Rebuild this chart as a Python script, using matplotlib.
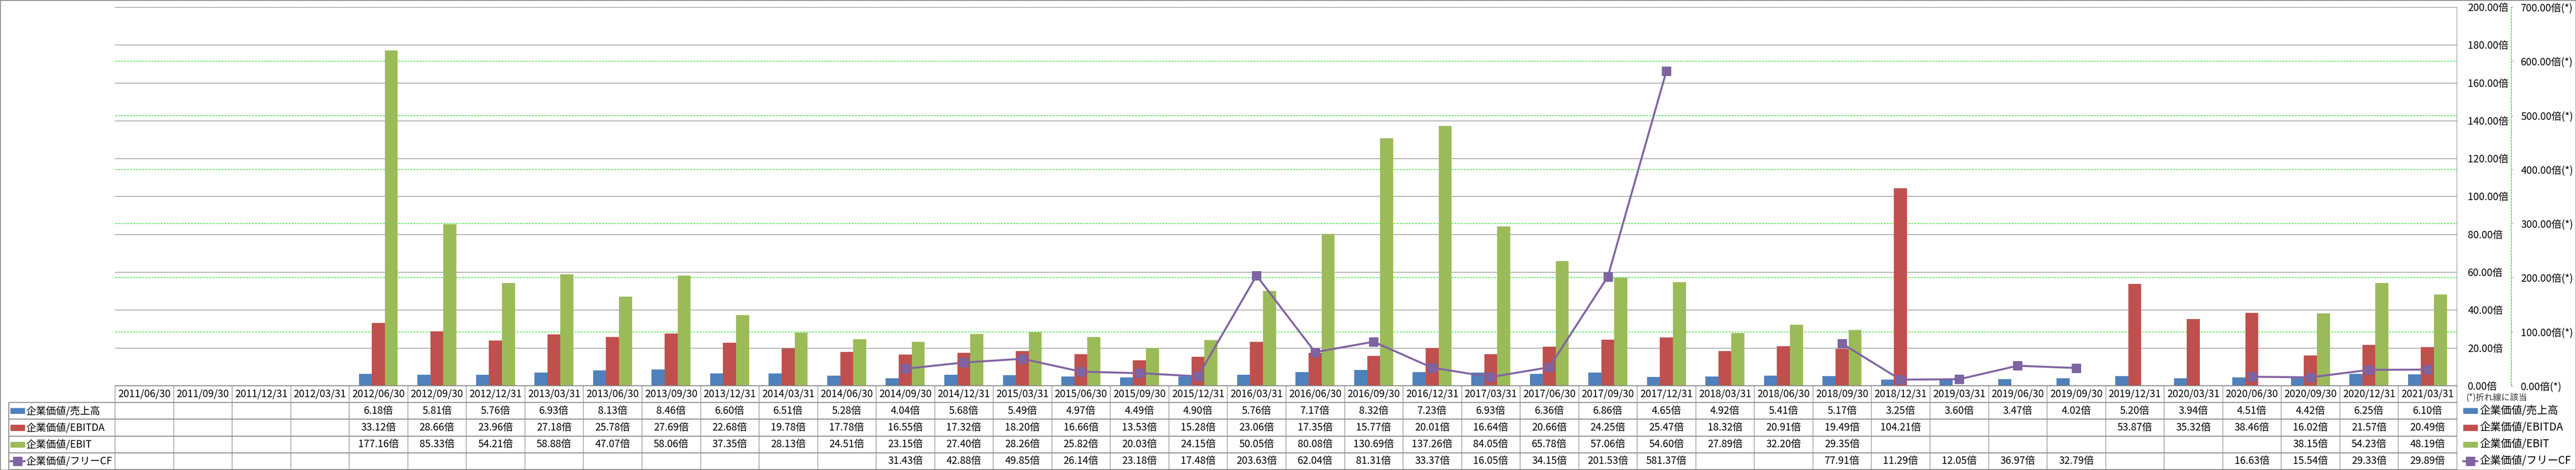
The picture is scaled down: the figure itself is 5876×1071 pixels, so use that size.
#!/usr/bin/env python3
# EV multiples chart (bars + line on secondary axis) with an Excel-style data table below.

import numpy as np
import matplotlib
matplotlib.use('Agg')
from matplotlib import pyplot as plt, ticker
from matplotlib.patches import Rectangle

plt.rcParams['font.family'] = ['Noto Sans CJK JP', 'DejaVu Sans']

nan = np.nan

dates = ['2011/06/30', '2011/09/30', '2011/12/31', '2012/03/31',
         '2012/06/30', '2012/09/30', '2012/12/31', '2013/03/31',
         '2013/06/30', '2013/09/30', '2013/12/31', '2014/03/31',
         '2014/06/30', '2014/09/30', '2014/12/31', '2015/03/31',
         '2015/06/30', '2015/09/30', '2015/12/31', '2016/03/31',
         '2016/06/30', '2016/09/30', '2016/12/31', '2017/03/31',
         '2017/06/30', '2017/09/30', '2017/12/31', '2018/03/31',
         '2018/06/30', '2018/09/30', '2018/12/31', '2019/03/31',
         '2019/06/30', '2019/09/30', '2019/12/31', '2020/03/31',
         '2020/06/30', '2020/09/30', '2020/12/31', '2021/03/31']

ev_sales = [nan, nan, nan, nan,
            6.18, 5.81, 5.76, 6.93, 8.13, 8.46, 6.60, 6.51, 5.28, 4.04,
            5.68, 5.49, 4.97, 4.49, 4.90, 5.76, 7.17, 8.32, 7.23, 6.93,
            6.36, 6.86, 4.65, 4.92, 5.41, 5.17, 3.25, 3.60, 3.47, 4.02,
            5.20, 3.94, 4.51, 4.42, 6.25, 6.10]

ev_ebitda = [nan, nan, nan, nan,
             33.12, 28.66, 23.96, 27.18, 25.78, 27.69, 22.68, 19.78, 17.78, 16.55,
             17.32, 18.20, 16.66, 13.53, 15.28, 23.06, 17.35, 15.77, 20.01, 16.64,
             20.66, 24.25, 25.47, 18.32, 20.91, 19.49, 104.21, nan, nan, nan,
             53.87, 35.32, 38.46, 16.02, 21.57, 20.49]

ev_ebit = [nan, nan, nan, nan,
           177.16, 85.33, 54.21, 58.88, 47.07, 58.06, 37.35, 28.13, 24.51, 23.15,
           27.40, 28.26, 25.82, 20.03, 24.15, 50.05, 80.08, 130.69, 137.26, 84.05,
           65.78, 57.06, 54.60, 27.89, 32.20, 29.35, nan, nan, nan, nan,
           nan, nan, nan, 38.15, 54.23, 48.19]

ev_fcf = [nan, nan, nan, nan, nan, nan, nan, nan, nan, nan, nan, nan, nan,
          31.43, 42.88, 49.85, 26.14, 23.18, 17.48, 203.63, 62.04, 81.31, 33.37,
          16.05, 34.15, 201.53, 581.37, nan, nan, 77.91, 11.29, 12.05, 36.97,
          32.79, nan, nan, 16.63, 15.54, 29.33, 29.89]

labels = ['企業価値/売上高', '企業価値/EBITDA', '企業価値/EBIT', '企業価値/フリーCF']
colors = ['#4F81BD', '#C0504D', '#9BBB59', '#8064A2']

# layout in pixels of the 5876 x 1071 canvas
W, H = 5876, 1071
PL, PR, PT, PB = 262, 5604, 16, 879      # plot area
TL, TB = 20, 1070                         # table left / bottom
GRAY = '#878787'
GREEN = '#00DD00'
FS = 16.5

fig = plt.figure(figsize=(W / 100, H / 100), dpi=100)
ax = fig.add_axes([PL / W, 1 - PB / H, (PR - PL) / W, (PB - PT) / H])
ax2 = ax.twinx()

n = len(dates)
x = np.arange(n)
bw = 0.222
for k, (vals, c) in enumerate(zip([ev_sales, ev_ebitda, ev_ebit], colors[:3])):
    ax.bar(x + (k - 1) * bw, np.array(vals, dtype=float), width=bw, color=c, zorder=3)

ax.set_xlim(-0.5, n - 0.5)
ax.set_ylim(0, 200)
ax.yaxis.set_major_locator(ticker.MultipleLocator(20))
ax.yaxis.set_major_formatter(ticker.FuncFormatter(lambda v, p: '{:.2f}倍'.format(v)))
ax.yaxis.tick_right()
ax.tick_params(axis='y', length=0, pad=18, labelsize=FS)
ax.tick_params(axis='x', bottom=False, labelbottom=False)
for t in ax.get_yticklabels():
    t.set_horizontalalignment('left')
ax.grid(axis='y', color=GRAY, lw=1.0, zorder=0)
for s in ['left', 'top', 'bottom']:
    ax.spines[s].set_visible(False)
ax.spines['right'].set_color(GRAY)

# secondary axis (line)
ax2.set_ylim(0, 700)
ax2.yaxis.set_major_locator(ticker.MultipleLocator(100))
ax2.yaxis.set_major_formatter(ticker.FuncFormatter(lambda v, p: '{:.2f}倍(*)'.format(v)))
ax2.tick_params(axis='y', length=3, color=GREEN, pad=13, labelsize=FS)
for s in ['left', 'top', 'bottom']:
    ax2.spines[s].set_visible(False)
ax2.spines['right'].set_position(('outward', (5728 - PR) * 0.72))
ax2.spines['right'].set_color(GREEN)
ax2.spines['right'].set_linestyle((0, (3, 2)))
ax2.spines['right'].set_linewidth(1.0)
# secondary gridlines behind the bars
for v in ax2.get_yticks():
    if 0 < v <= 700:
        ax.axhline(v * 200 / 700, color=GREEN, lw=1.0, ls=(0, (3, 2)), zorder=1)

ax2.plot(x, np.array(ev_fcf, dtype=float), color=colors[3], lw=3.2, marker='s',
         ms=15, mfc=colors[3], mec='#7460A0', zorder=5)

# data table
ppc = (PR - PL) / n
xl = -0.5 - (PL - TL) / ppc
tax = fig.add_axes([TL / W, 1 - TB / H, (PR - TL) / W, (TB - PB) / H])
tax.set_xlim(xl, n - 0.5)
tax.set_ylim(5, 0)
tax.axis('off')
tax.hlines(0, -0.5, n - 0.5, color=GRAY, lw=1.5, clip_on=False)
tax.hlines([1, 2, 3, 4, 5], xl, n - 0.5, color=GRAY, lw=1.5, clip_on=False)
tax.vlines(np.arange(n + 1) - 0.5, 0, 5, color=GRAY, lw=1.0, clip_on=False)
tax.vlines(xl, 1, 5, color=GRAY, lw=1.5, clip_on=False)

for i, d in enumerate(dates):
    tax.text(i, 0.5, d, ha='center', va='center', fontsize=FS)
for r, vals in enumerate([ev_sales, ev_ebitda, ev_ebit, ev_fcf]):
    for i, v in enumerate(vals):
        if not np.isnan(v):
            tax.text(i, r + 1.5, '{:.2f}倍'.format(v), ha='center', va='center', fontsize=FS)


def legend_key(axx, x0, y, k, kw):
    """Draw one legend key (rectangle or line+marker) at x0 (col units), row centre y."""
    if k < 3:
        axx.add_patch(Rectangle((x0, y - 0.16), kw, 0.32, color=colors[k], clip_on=False))
    else:
        axx.plot([x0, x0 + kw], [y, y], color=colors[k], lw=3.2, clip_on=False)
        axx.plot([x0 + kw / 2], [y], marker='s', ms=15, color=colors[k], clip_on=False)


kw = 32 / ppc
for k, lab in enumerate(labels):
    y = k + 1.5
    legend_key(tax, xl + 4 / ppc, y, k, kw)
    tax.text(xl + 39 / ppc, y, lab, ha='left', va='center', fontsize=FS)
    # right-hand legend
    legend_key(tax, n - 0.5 + 15 / ppc, y, k, kw)
    tax.text(n - 0.5 + 52 / ppc, y, lab, ha='left', va='center', fontsize=17.5)

fig.text(5625 / W, 1 - 907 / H, '(*)折れ線に該当', ha='left', va='center',
         fontsize=14, color='#333333')

# chart border
fig.patches.append(Rectangle((0, 0), 1, 1, transform=fig.transFigure, fill=False,
                             edgecolor=GRAY, lw=2))

fig.savefig('out.png', dpi=100)
